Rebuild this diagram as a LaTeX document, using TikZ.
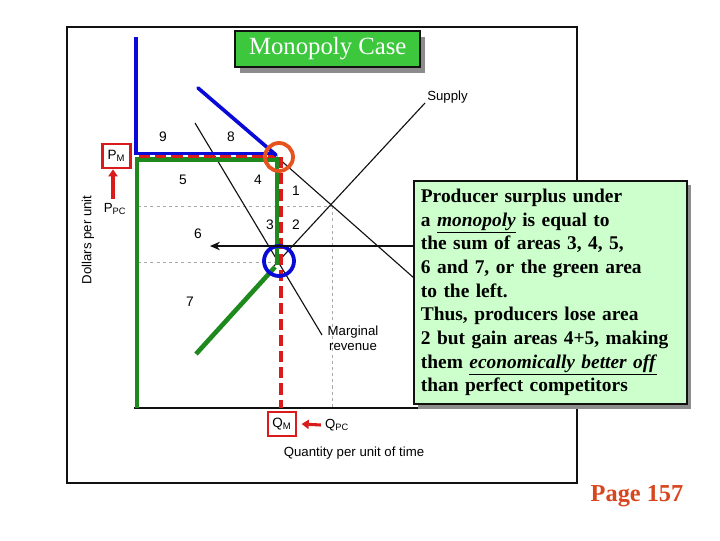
\documentclass[tikz,border=0pt]{standalone}
\usepackage{fontspec}
\setmainfont{Liberation Sans}
\newfontfamily\timesfont{Liberation Serif}
\usepackage{xcolor}
\usetikzlibrary{arrows.meta,positioning,shapes,calc,shadows}
\definecolor{ink}{HTML}{111111}
\definecolor{guidegray}{HTML}{A8A8A8}
\definecolor{surplusgreen}{HTML}{1E8A1E}
\definecolor{priceblue}{HTML}{0A0AD8}
\definecolor{markred}{HTML}{DA1B1B}
\definecolor{ringorange}{HTML}{E8521F}
\definecolor{titlegreen}{HTML}{3DC73D}
\definecolor{notegreen}{HTML}{CCFFCC}
\definecolor{pagered}{HTML}{D8461F}
\tikzset{
  arealabel/.style={font=\fontsize{9.8}{11}\selectfont,inner sep=0pt},
  axistext/.style={font=\fontsize{9.4}{10.5}\selectfont,inner sep=0pt},
  thincurve/.style={ink,line width=0.8pt},
  guide/.style={guidegray,line width=0.6pt,dash pattern=on 2.2pt off 2.2pt},
  thickgreen/.style={surplusgreen,line width=3.3pt},
  thickblue/.style={priceblue,line width=2.6pt},
  reddash/.style={markred,line width=2.2pt,dash pattern=on 8pt off 3.5pt},
  ring/.style={line width=2.7pt},
  markbox/.style={draw=markred,line width=2pt,inner sep=0pt,
    minimum width=20pt,minimum height=17pt,font=\fontsize{9.6}{10}\selectfont},
  markarrow/.style={markred,line width=2.2pt,-{Triangle[length=5pt,width=6.5pt]}},
  titlebox/.style={draw=ink,line width=1.4pt,fill=titlegreen,text=white,
    minimum width=131.9pt,minimum height=25.5pt,inner sep=0pt,
    font=\timesfont\fontsize{17.6}{19}\selectfont,
    drop shadow={shadow xshift=3.5pt,shadow yshift=-4.3pt,fill=black!45,opacity=1}},
  notebox/.style={draw=ink,line width=1.2pt,fill=notegreen,
    text width=184pt,inner xsep=5pt,minimum height=158.8pt,align=left,
    font=\timesfont\bfseries\fontsize{13.8}{16.8}\selectfont,
    drop shadow={shadow xshift=3.2pt,shadow yshift=-3.2pt,fill=black!45,opacity=1}},
}
\begin{document}
\begin{tikzpicture}[x=0.025cm,y=-0.025cm]
\useasboundingbox (0,0) rectangle (720,540);
\fill[white] (0,0) rectangle (720,540);
% frame of the graph
\draw[ink,line width=2pt] (67,27) rectangle (577,483);
% guide lines
\draw[guide] (138,206) -- (332,206);
\draw[guide] (332,206) -- (332,407);
\draw[guide] (138,262) -- (278,262);
% curves
\draw[thincurve] (277,157) -- (440,301);
\draw[thincurve] (195,123) -- (322,335);
\draw[thincurve] (274,266) -- (425,103);
\draw[ink,line width=1pt] (134,408) -- (560,408);
% surplus area edges
\draw[thickgreen] (137,408) -- (137,159.5) -- (277,159.5) -- (277,265);
\draw[thickgreen] (196,354) -- (275,267);
\draw[reddash] (139,156) -- (276,156);
\draw[reddash] (281,157) -- (281,408);
\draw[thickblue] (136,37) -- (136,153.5) -- (276,153.5);
\draw[thickblue,line cap=round] (198,88) -- (276,155);
% rings
\draw[ring,ringorange] (279,157) circle (14);
\draw[ring,priceblue] (279,261) circle (15);
% area numbers
\node[arealabel] (a9) at (163,137) {9};
\node[arealabel] (a8) at (231,137) {8};
\node[arealabel] (a5) at (183,180) {5};
\node[arealabel] (a4) at (258,180) {4};
\node[arealabel] (a1) at (296,191) {1};
\node[arealabel] (a3) at (270,225) {3};
\node[arealabel] (a2) at (296,225) {2};
\node[arealabel] (a6) at (198,234) {6};
\node[arealabel] (a7) at (190,302) {7};
\node[axistext,anchor=west] (supply) at (427,97) {Supply};
\node[axistext,align=center] (mr) at (353,338) {Marginal\\revenue};
\node[axistext] (xlabel) at (354,453) {Quantity per unit of time};
\node[axistext,rotate=90] (ylabel) at (88,240) {Dollars per unit};
% price and quantity marks
\node[markbox] (pm) at (116.5,156) {P\textsubscript{M}};
\node[axistext] (ppc) at (115,209) {P\textsubscript{PC}};
\draw[markarrow] (113,199) -- (pm.south -| 113,0);
\node[markbox] (qm) at (282,424) {Q\textsubscript{M}};
\node[axistext] (qpc) at (337,425) {Q\textsubscript{PC}};
\draw[markarrow] (qpc.west) ++(-4,0) -- ([xshift=3pt]qm.east);
% title
\node[titlebox,anchor=north west] (title) at (234,30) {Monopoly Case};
% explanation box
\node[notebox,anchor=north west] (note) at (413,180) {Producer surplus under\\
a \underline{\textit{monopoly}} is equal to\\
the sum of areas 3, 4, 5,\\
6 and 7, or the green area\\
to the left.\\
Thus, producers lose area\\
2 but gain areas 4+5, making\\
them \underline{\textit{economically better off}}\\
than perfect competitors};
\coordinate (sixtip) at (210,246);
\draw[ink,line width=1.3pt,-{Stealth[length=7pt,width=6pt]}] (sixtip -| note.west) -- (sixtip);
% page number
\node[text=pagered,font=\timesfont\bfseries\fontsize{17.3}{19}\selectfont] (page) at (637,496) {Page 157};
\end{tikzpicture}
\end{document}
